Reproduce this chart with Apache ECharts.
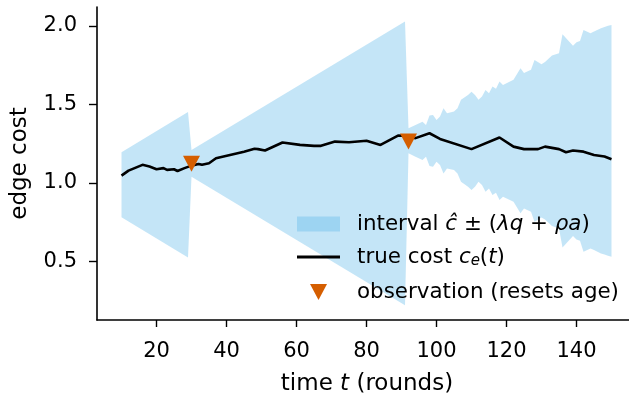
<!DOCTYPE html>
<html>
<head>
<meta charset="utf-8">
<script src="https://cdn.jsdelivr.net/npm/echarts@6/dist/echarts.min.js"></script>
<style>
html,body{margin:0;padding:0;background:#fff;}
#c{width:629px;height:393px;}
</style>
</head>
<body>
<div id="c"></div>
<script>
// tick labels
const xTicks = [20, 40, 60, 80, 100, 120, 140];
const yTicks = [0.5, 1.0, 1.5, 2.0];

// true cost c_e(t)
const tTrue = [10, 12, 16, 18, 20, 22, 23, 25, 26, 28, 30, 32, 33, 35, 37, 41, 45, 48, 49, 51, 56, 61, 65, 67, 71, 75, 80, 84, 89, 91, 94, 98, 101, 110, 118, 122, 125, 129, 131, 135, 137, 139, 142, 145, 148, 150];
const costTrue = [1.046, 1.078, 1.115, 1.104, 1.087, 1.094, 1.083, 1.087, 1.076, 1.094, 1.110, 1.121, 1.115, 1.125, 1.157, 1.178, 1.199, 1.217, 1.215, 1.206, 1.257, 1.242, 1.236, 1.236, 1.263, 1.259, 1.268, 1.242, 1.301, 1.300, 1.285, 1.316, 1.280, 1.215, 1.289, 1.231, 1.215, 1.215, 1.231, 1.215, 1.195, 1.206, 1.199, 1.178, 1.168, 1.151];

// interval c_hat +/- (lambda q + rho a)
const tBand = [10, 29, 30, 91, 92, 94, 96, 97, 98, 99, 100, 101, 102, 103, 105, 106, 107, 109, 110, 111, 112, 113, 114, 115, 116, 117, 118, 119, 122, 124, 125, 127, 128, 130, 131, 133, 135, 136, 139, 140, 141, 142, 144, 145, 147, 148, 149, 150];
const bandCenter = [0.988, 0.988, 1.124, 1.124, 1.268, 1.268, 1.268, 1.268, 1.268, 1.268, 1.268, 1.268, 1.268, 1.268, 1.268, 1.268, 1.268, 1.268, 1.268, 1.268, 1.268, 1.268, 1.268, 1.268, 1.268, 1.268, 1.268, 1.268, 1.268, 1.268, 1.268, 1.268, 1.268, 1.268, 1.268, 1.268, 1.268, 1.268, 1.268, 1.268, 1.268, 1.268, 1.268, 1.268, 1.268, 1.268, 1.268, 1.268];
const bandHalf = [0.207, 0.463, 0.085, 0.903, 0.080, 0.101, 0.122, 0.101, 0.161, 0.165, 0.133, 0.154, 0.208, 0.176, 0.186, 0.208, 0.261, 0.292, 0.313, 0.292, 0.261, 0.282, 0.324, 0.303, 0.345, 0.331, 0.377, 0.356, 0.388, 0.462, 0.431, 0.452, 0.515, 0.488, 0.501, 0.543, 0.558, 0.679, 0.606, 0.628, 0.636, 0.706, 0.685, 0.696, 0.717, 0.724, 0.732, 0.738];

// observations
const tObs = [30, 92];
const costObs = [1.122, 1.263];

const FONT = 'DejaVu Sans';
const FS = 21;
const FSL = 21.4;
const FSN = 23;
const bandColor = 'rgba(86,180,233,0.35)';
const obsColor = '#D55E00';

const bandData = tBand.map((t, i) => [t, bandCenter[i] - bandHalf[i], bandCenter[i] + bandHalf[i]]);
const lineData = tTrue.map((t, i) => [t, costTrue[i]]);
const obsData = tObs.map((t, i) => [t, costObs[i]]);

function richFor(gap) {
  return {
    g: { width: gap, height: 10, lineHeight: 26 },
    it: { fontFamily: FONT, fontSize: FSL, fontStyle: 'italic', color: '#000', lineHeight: 26 },
    sub: { fontFamily: FONT, fontSize: 15, fontStyle: 'italic', color: '#000', lineHeight: 26, padding: [9, 0, 0, 0] },
    n: { fontFamily: FONT, fontSize: FSL, color: '#000', lineHeight: 26 }
  };
}
const legendText = {
  'interval': '{g| }{n|interval }{it|ĉ}{n| ± (}{it|λq}{n| + }{it|ρa}{n|)}',
  'true cost': '{g| }{n|true cost }{it|c}{sub|e}{n|(}{it|t}{n|)}',
  'observation': '{g| }{n|observation (resets age)}'
};
function mkLegend(name, left, top, icon, w, h, color, gap) {
  return {
    left: left, top: top, orient: 'vertical', padding: 0,
    itemWidth: w, itemHeight: h, selectedMode: false, symbolKeepAspect: false,
    data: [{ name: name, icon: icon, itemStyle: { color: color, borderWidth: 0 } }],
    formatter: n => legendText[n],
    textStyle: { fontFamily: FONT, fontSize: FSL, color: '#000', lineHeight: 26, rich: richFor(gap) }
  };
}

const chart = echarts.init(document.getElementById('c'), null, { renderer: 'canvas' });
chart.setOption({
  animation: false,
  backgroundColor: '#fff',
  textStyle: { fontFamily: FONT },
  grid: { left: 97, right: 0, top: 7, bottom: 73, containLabel: false, outerBoundsMode: 'none' },
  xAxis: {
    type: 'value', min: 3, max: 155,
    name: 'time {it|t} (rounds)', nameLocation: 'middle', nameGap: 53,
    nameTextStyle: { fontFamily: FONT, fontSize: FSN, color: '#000', padding: [0, 0, 0, 8], rich: { it: { fontFamily: FONT, fontSize: FSN, fontStyle: 'italic', color: '#000' } } },
    splitLine: { show: false },
    axisLine: { show: true, onZero: false, lineStyle: { color: '#000', width: 1.6 } },
    axisTick: { show: true, length: 7, lineStyle: { color: '#000', width: 1.4 }, customValues: xTicks },
    axisLabel: { fontFamily: FONT, fontSize: FS, color: '#000', margin: 21, customValues: xTicks, formatter: v => String(v) }
  },
  yAxis: {
    type: 'value', min: 0.127, max: 2.12,
    name: 'edge cost', nameLocation: 'middle', nameGap: 65,
    nameTextStyle: { fontFamily: FONT, fontSize: FSN, color: '#000' },
    splitLine: { show: false },
    axisLine: { show: true, onZero: false, lineStyle: { color: '#000', width: 1.6 } },
    axisTick: { show: true, length: 8, lineStyle: { color: '#000', width: 1.4 }, customValues: yTicks },
    axisLabel: { fontFamily: FONT, fontSize: FS, color: '#000', margin: 20, customValues: yTicks, formatter: v => v.toFixed(1) }
  },
  legend: [
    mkLegend('interval', 297, 211, 'rect', 43, 15, bandColor, 12),
    mkLegend('true cost', 297, 244, 'rect', 43, 2.8, '#000', 12),
    mkLegend('observation', 310, 279, 'path://M0,0 L2,0 L1,1.9 Z', 17, 16, obsColor, 25)
  ],
  series: [
    {
      name: 'interval', type: 'custom', z: 1,
      data: bandData,
      encode: { x: 0, y: [1, 2] },
      renderItem: function (params, api) {
        if (params.dataIndex !== 0) return null;
        const pts = [];
        for (let i = 0; i < bandData.length; i++) pts.push(api.coord([bandData[i][0], bandData[i][2]]));
        for (let i = bandData.length - 1; i >= 0; i--) pts.push(api.coord([bandData[i][0], bandData[i][1]]));
        return { type: 'polygon', shape: { points: pts }, style: { fill: bandColor, stroke: null } };
      }
    },
    {
      name: 'true cost', type: 'line', z: 3,
      data: lineData, showSymbol: false, symbol: 'none',
      lineStyle: { color: '#000', width: 2.6 }, itemStyle: { color: '#000' }
    },
    {
      name: 'observation', type: 'scatter', z: 4,
      data: obsData, symbol: 'triangle', symbolRotate: 180, symbolSize: [17, 16],
      itemStyle: { color: obsColor, opacity: 1 }
    }
  ]
});
</script>
</body>
</html>
